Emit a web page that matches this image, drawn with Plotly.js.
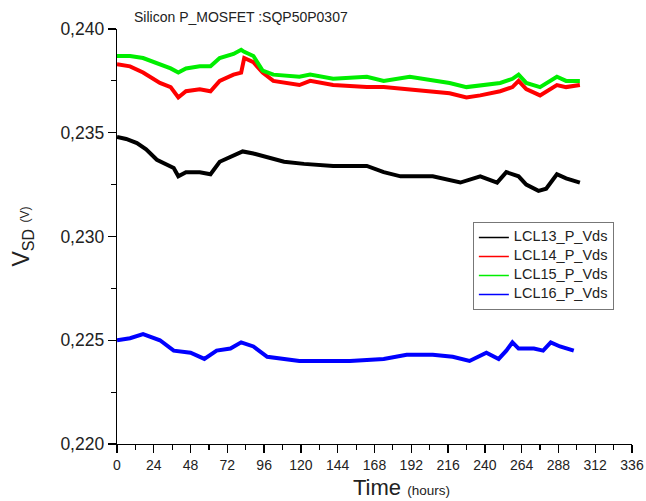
<!DOCTYPE html>
<html>
<head>
<meta charset="utf-8">
<script src="https://cdn.plot.ly/plotly-3.0.1.min.js"></script>
<style>html,body{margin:0;padding:0;background:#fff;}#chart{width:646px;height:501px;}</style>
</head>
<body>
<div id="chart"></div>
<script>
// Time (hours) and V_SD (V)
const hoursA = [0, 8.5, 17, 28, 35, 40, 45, 54, 61, 67, 76, 81, 83, 89, 95, 102, 119, 126, 141, 163, 174, 191, 206, 217, 228, 237, 250, 258, 262, 267, 276, 287, 293, 302];
const lcl15 = [0.2387, 0.2387, 0.2386, 0.2383, 0.2381, 0.2379, 0.2381, 0.2382, 0.2382, 0.2386, 0.2388, 0.2390, 0.2389, 0.2387, 0.2380, 0.2378, 0.2377, 0.2378, 0.2376, 0.2377, 0.2375, 0.2377, 0.2375, 0.2374, 0.2372, 0.2373, 0.2374, 0.2376, 0.2378, 0.2374, 0.2372, 0.2377, 0.2375, 0.2375];
const lcl14 = [0.2383, 0.2382, 0.2379, 0.2374, 0.2372, 0.2367, 0.2370, 0.2371, 0.2370, 0.2375, 0.2378, 0.2379, 0.2386, 0.2384, 0.2379, 0.2375, 0.2373, 0.2375, 0.2373, 0.2372, 0.2372, 0.2371, 0.2370, 0.2369, 0.2367, 0.2368, 0.2370, 0.2372, 0.2375, 0.2371, 0.2368, 0.2373, 0.2372, 0.2373];

const hoursB = [0, 6, 13, 19, 26, 32, 37, 40, 45, 54, 61, 67, 76, 82, 89, 98, 109, 122, 141, 163, 174, 185, 206, 224, 237, 248, 254, 262, 267, 275, 280, 287, 293, 302];
const lcl13 = [0.2348, 0.2347, 0.2345, 0.2342, 0.2337, 0.2335, 0.2333, 0.2329, 0.2331, 0.2331, 0.2330, 0.2336, 0.2339, 0.2341, 0.2340, 0.2338, 0.2336, 0.2335, 0.2334, 0.2334, 0.2331, 0.2329, 0.2329, 0.2326, 0.2329, 0.2326, 0.2331, 0.2329, 0.2325, 0.2322, 0.2323, 0.2330, 0.2328, 0.2326];

const hoursC = [0, 8.5, 17, 28, 37, 48, 57, 65, 74, 81, 89, 98, 119, 141, 152, 174, 189, 206, 219, 230, 241, 249, 254, 258, 262, 272, 278, 283, 289, 298];
const lcl16 = [0.2250, 0.2251, 0.2253, 0.2250, 0.2245, 0.2244, 0.2241, 0.2245, 0.2246, 0.2249, 0.2247, 0.2242, 0.2240, 0.2240, 0.2240, 0.2241, 0.2243, 0.2243, 0.2242, 0.2240, 0.2244, 0.2241, 0.2245, 0.2249, 0.2246, 0.2246, 0.2245, 0.2249, 0.2247, 0.2245];

const seriesNames = ['LCL13_P_Vds', 'LCL14_P_Vds', 'LCL15_P_Vds', 'LCL16_P_Vds'];
const seriesColors = ['#000000', '#ff0000', '#00ee00', '#0000ff'];
const xTicks = [0, 24, 48, 72, 96, 120, 144, 168, 192, 216, 240, 264, 288, 312, 336];
const yTicks = [0.220, 0.225, 0.230, 0.235, 0.240];

const seriesX = [hoursB, hoursA, hoursA, hoursC];
const seriesY = [lcl13, lcl14, lcl15, lcl16];

const traces = [];
// data traces (thick, noisy-looking bands)
for (let i = 0; i < 4; i++) {
  traces.push({x: seriesX[i], y: seriesY[i], name: seriesNames[i], type: 'scatter', mode: 'lines',
               showlegend: false, line: {color: seriesColors[i], width: 4}});
}
// legend entries with thin lines (no data drawn)
for (let i = 0; i < 4; i++) {
  traces.push({x: [null], y: [null], type: 'scatter', mode: 'lines', showlegend: true,
               name: '<span style="font-size:14.5px">' + seriesNames[i] + '</span>',
               line: {color: seriesColors[i], width: 1.3}});
}

const layout = {
  width: 646, height: 501,
  margin: {l: 117, r: 14, t: 29, b: 57},
  paper_bgcolor: '#ffffff', plot_bgcolor: '#ffffff',
  separators: ', ',
  font: {family: 'Liberation Sans, Arial, sans-serif', color: '#222'},
  showlegend: true,
  legend: {x: 0.691, y: 0.535, xanchor: 'left', yanchor: 'top', bordercolor: '#777', borderwidth: 1,
           bgcolor: '#ffffff', font: {size: 10, color: '#222'}, tracegroupgap: 0, itemwidth: 30},
  xaxis: {
    range: [0, 336], tickvals: xTicks, ticktext: xTicks.map(String),
    showline: true, linecolor: '#000', linewidth: 1.3, showgrid: false, zeroline: false,
    ticks: 'outside', ticklen: 8, tickwidth: 1.3, tickcolor: '#000',
    minor: {dtick: 12, tick0: 0, ticks: 'outside', ticklen: 5, tickwidth: 1.2, tickcolor: '#000', showgrid: false},
    tickfont: {size: 14, color: '#222'}
  },
  yaxis: {
    range: [0.220, 0.240], tickvals: yTicks, tickformat: '.3f',
    showline: true, linecolor: '#000', linewidth: 1.3, showgrid: false, zeroline: false,
    ticks: 'outside', ticklen: 8, tickwidth: 1.3, tickcolor: '#000',
    minor: {dtick: 0.0025, tick0: 0.220, ticks: 'outside', ticklen: 5, tickwidth: 1.2, tickcolor: '#000', showgrid: false},
    tickfont: {size: 17.5, color: '#222'},
    title: {text: 'V<sub>SD</sub> <span style="font-size:12px">(V)</span>', font: {size: 23, color: '#222'}, standoff: 24}
  },
  annotations: [
    {text: 'Silicon P_MOSFET :SQP50P0307', xref: 'paper', yref: 'paper', x: 0.03, y: 1.0,
     xanchor: 'left', yanchor: 'bottom', showarrow: false, font: {size: 14, color: '#222'}, yshift: 2},
    {text: 'Time <span style="font-size:13.5px">(hours)</span>', xref: 'paper', yref: 'paper', x: 0.552, y: -0.111,
     xanchor: 'center', yanchor: 'middle', showarrow: false, font: {size: 22, color: '#222'}, yshift: 3}
  ]
};

Plotly.newPlot('chart', traces, layout, {displayModeBar: false, staticPlot: true});
</script>
</body>
</html>
